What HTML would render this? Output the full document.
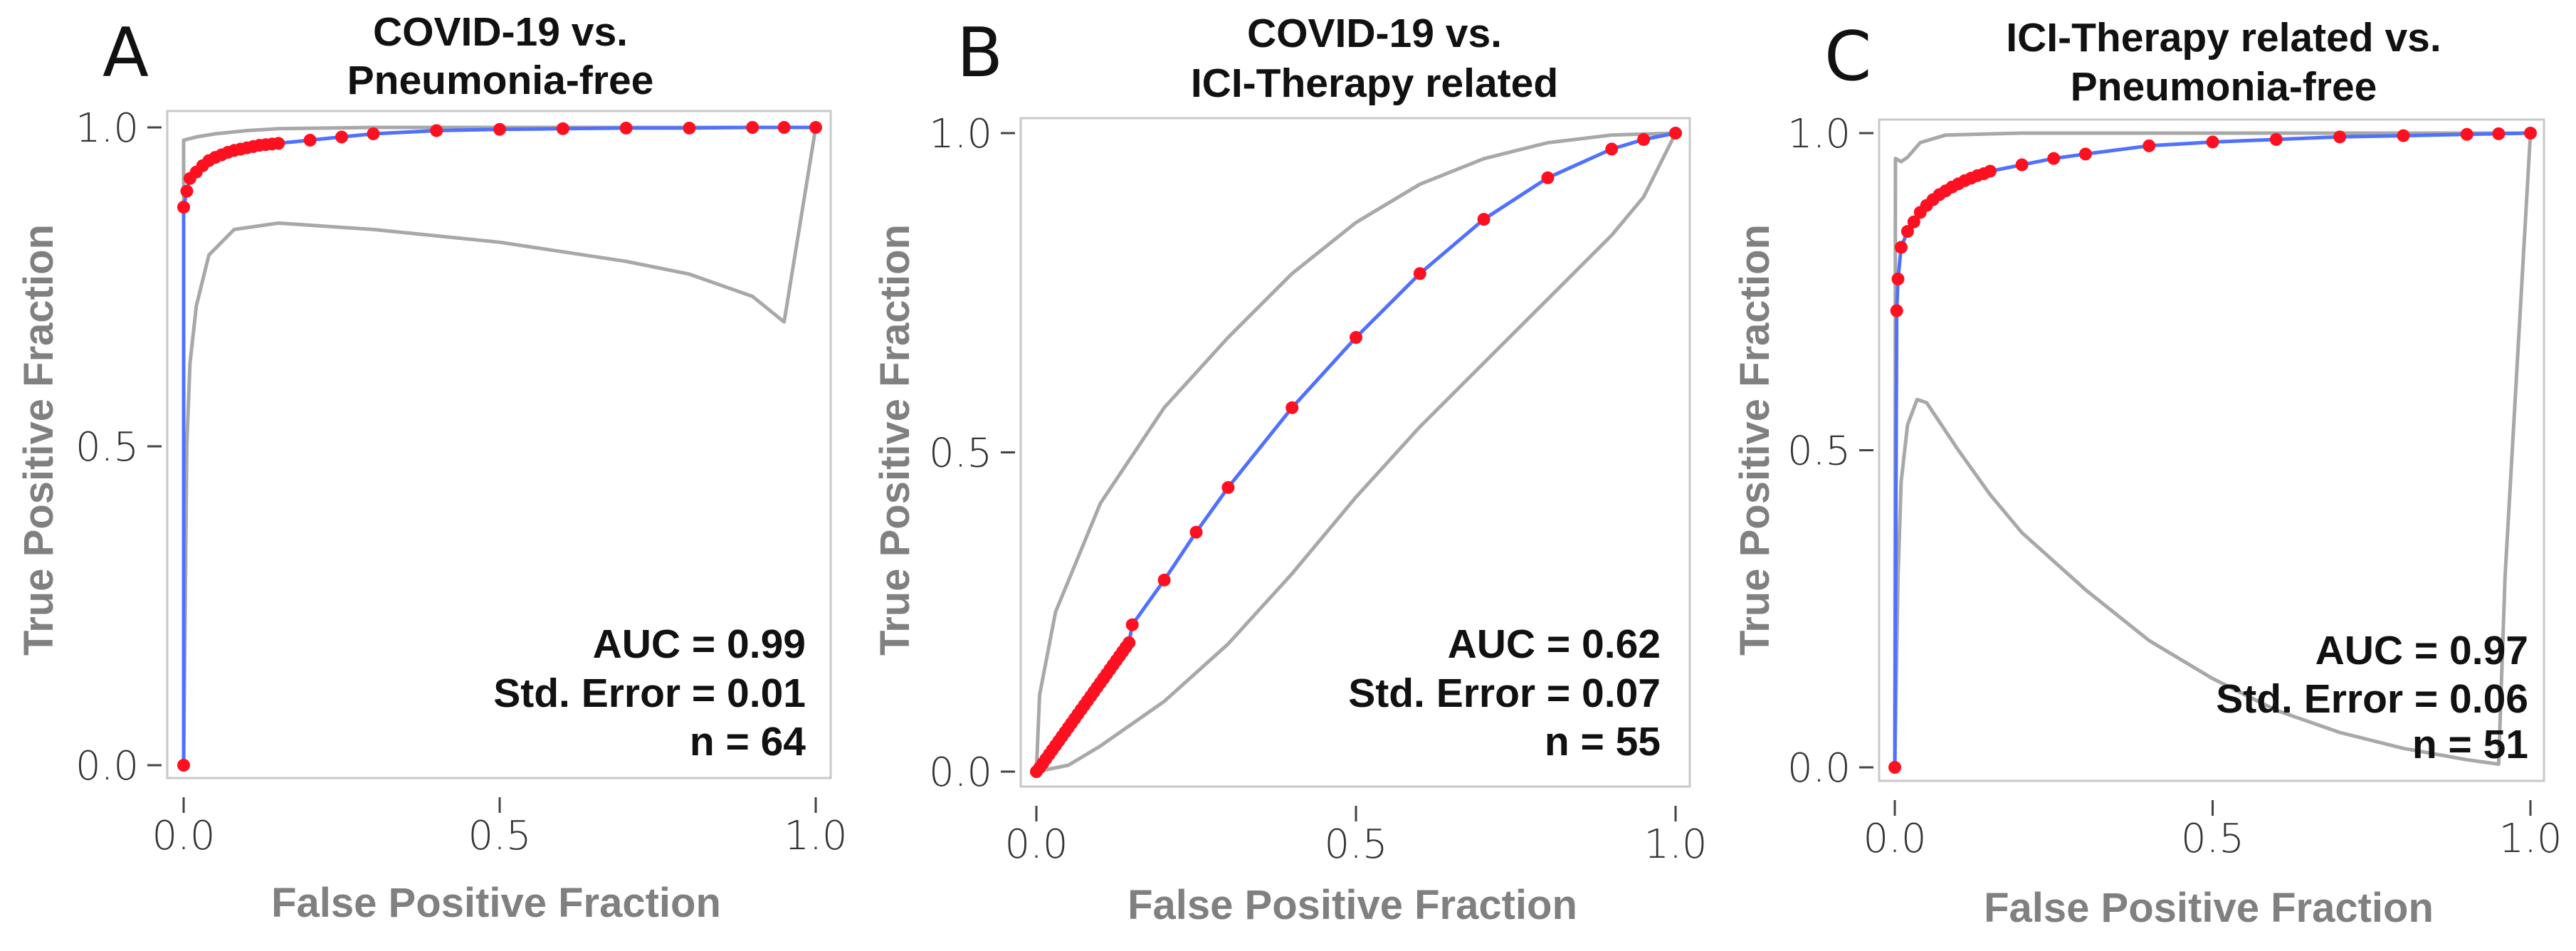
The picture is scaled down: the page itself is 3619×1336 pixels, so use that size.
<!DOCTYPE html>
<html><head><meta charset="utf-8"><style>
html,body{margin:0;padding:0;background:#fff;}
svg{display:block;}
</style></head><body>
<svg id="fig" width="3619" height="1336" viewBox="0 0 3619 1336" xmlns="http://www.w3.org/2000/svg" font-family="Liberation Sans, sans-serif">
</svg>
<script>
// Panel A data
const aDotX=[0,0,0.005,0.01,0.02,0.03,0.04,0.05,0.06,0.07,0.08,0.09,0.10,0.11,0.12,0.13,0.14,0.15,0.2,0.25,0.3,0.4,0.5,0.6,0.7,0.8,0.9,0.95,1];
const aDotY=[0,0.875,0.9,0.92,0.93,0.94,0.948,0.953,0.957,0.961,0.964,0.966,0.968,0.970,0.972,0.973,0.974,0.975,0.98,0.985,0.99,0.995,0.997,0.998,0.999,0.999,1,1,1];
const aUpX=[0,0,0.02,0.05,0.1,0.15,0.3,1];
const aUpY=[0,0.98,0.985,0.99,0.995,0.998,1,1];
const aLoX=[0,0.005,0.01,0.02,0.04,0.08,0.15,0.3,0.5,0.7,0.8,0.9,0.95,1];
const aLoY=[0,0.5,0.63,0.72,0.8,0.84,0.85,0.84,0.82,0.79,0.77,0.735,0.695,1];
// Panel B data
const bDotX=[0,0.005,0.01,0.015,0.02,0.025,0.03,0.035,0.04,0.045,0.05,0.055,0.06,0.065,0.07,0.075,0.08,0.085,0.09,0.095,0.1,0.105,0.11,0.115,0.12,0.125,0.13,0.135,0.14,0.145,0.15,0.2,0.25,0.3,0.4,0.5,0.6,0.7,0.8,0.9,0.95,1];
const bDotY=[0,0.006,0.013,0.02,0.027,0.034,0.041,0.048,0.055,0.062,0.069,0.076,0.083,0.09,0.097,0.104,0.111,0.118,0.125,0.132,0.139,0.146,0.153,0.16,0.167,0.174,0.181,0.188,0.195,0.202,0.23,0.3,0.375,0.445,0.57,0.68,0.78,0.865,0.93,0.975,0.99,1];
const bUpX=[0,0.005,0.03,0.1,0.2,0.3,0.4,0.5,0.6,0.7,0.8,0.9,1];
const bUpY=[0,0.12,0.25,0.42,0.57,0.68,0.78,0.86,0.92,0.96,0.985,0.997,1];
const bLoX=[0,0.05,0.1,0.2,0.3,0.4,0.5,0.6,0.7,0.8,0.9,0.95,1];
const bLoY=[0,0.01,0.04,0.11,0.2,0.31,0.43,0.54,0.64,0.74,0.84,0.9,1];
// Panel C data
const cDotX=[0,0.003,0.005,0.01,0.02,0.03,0.04,0.05,0.06,0.07,0.08,0.09,0.10,0.11,0.12,0.13,0.14,0.15,0.2,0.25,0.3,0.4,0.5,0.6,0.7,0.8,0.9,0.95,1];
const cDotY=[0,0.72,0.77,0.82,0.845,0.86,0.875,0.886,0.895,0.903,0.909,0.915,0.92,0.925,0.929,0.933,0.936,0.94,0.95,0.96,0.967,0.98,0.986,0.99,0.994,0.996,0.998,0.999,1];
const cUpX=[0,0.001,0.01,0.02,0.04,0.08,0.2,1];
const cUpY=[0,0.96,0.955,0.962,0.985,0.997,1,1];
const cLoX=[0,0.005,0.01,0.02,0.035,0.05,0.1,0.15,0.2,0.3,0.4,0.5,0.6,0.7,0.8,0.9,0.95,0.96,0.98,1];
const cLoY=[0,0.3,0.45,0.54,0.58,0.575,0.5,0.43,0.37,0.28,0.2,0.14,0.09,0.055,0.03,0.012,0.005,0.3,0.65,1];

const tickVals=[0,0.5,1];
const tickLabels=["0.0","0.5","1.0"];

const panels=[
 {id:"a",letter:"A",t1:"COVID-19 vs.",t2:"Pneumonia-free",stats:["AUC = 0.99","Std. Error = 0.01","n = 64"],
  dx:aDotX,dy:aDotY,ux:aUpX,uy:aUpY,lx:aLoX,ly:aLoY,
  fr:[235,156,1167,1093],x0:258,x1:1146,y0:1075,y1:179,letterX:144,letterY:107,tcx:703,tb:[64,132],
  sr:1132,sb:[924,993,1061],ytitleX:53,xtb:1288},
 {id:"b",letter:"B",t1:"COVID-19 vs.",t2:"ICI-Therapy related",stats:["AUC = 0.62","Std. Error = 0.07","n = 55"],
  dx:bDotX,dy:bDotY,ux:bUpX,uy:bUpY,lx:bLoX,ly:bLoY,
  fr:[1434,166,2374,1105],x0:1456,x1:2354,y0:1084,y1:187,letterX:1344,letterY:107,tcx:1931,tb:[66,136],
  sr:2333,sb:[924,993,1061],ytitleX:1256,xtb:1291},
 {id:"c",letter:"C",t1:"ICI-Therapy related vs.",t2:"Pneumonia-free",stats:["AUC = 0.97","Std. Error = 0.06","n = 51"],
  dx:cDotX,dy:cDotY,ux:cUpX,uy:cUpY,lx:cLoX,ly:cLoY,
  fr:[2640,168,3574,1097],x0:2662,x1:3555,y0:1078,y1:187,letterX:2563,letterY:112,tcx:3124,tb:[72,141],
  sr:3552,sb:[933,1001,1065],ytitleX:2464,xtb:1295}
];
const NS="http://www.w3.org/2000/svg";
const svg=document.getElementById("fig");
function mk(tag,attrs,parent,text){const e=document.createElementNS(NS,tag);for(const k in attrs)e.setAttribute(k,attrs[k]);if(text!==undefined)e.textContent=text;parent.appendChild(e);return e;}

panels.forEach(p=>{
  const sx=v=>p.x0+v*(p.x1-p.x0);
  const sy=v=>p.y0+v*(p.y1-p.y0);
  const g=mk("g",{},svg);
  
  
  const fr=mk("rect",{x:p.fr[0],y:p.fr[1],width:p.fr[2]-p.fr[0],height:p.fr[3]-p.fr[1],fill:"none",stroke:"#c8c8c8","stroke-width":3},g);
  
  
  const cx=(p.fr[0]+p.fr[2])/2;
  const lt=mk("text",{x:p.letterX,y:p.letterY,"font-size":95,fill:"#111","font-family":"DejaVu Sans, sans-serif"},g,p.letter);
  
  
  const t1=mk("text",{x:p.tcx,y:p.tb[0],"font-size":57,"font-weight":"bold","text-anchor":"middle",fill:"#111"},g,p.t1);
  
  
  const t2=mk("text",{x:p.tcx,y:p.tb[1],"font-size":57,"font-weight":"bold","text-anchor":"middle",fill:"#111"},g,p.t2);
  
  
  tickVals.forEach((v,i)=>{
    const yt=mk("line",{x1:p.fr[0]-28,x2:p.fr[0]-8,y1:sy(v),y2:sy(v),stroke:"#444","stroke-width":3},g);
    
    
    const yl=mk("text",{x:p.fr[0]-40,y:sy(v)+20,"font-size":56,"text-anchor":"end",fill:"#333","font-family":"DejaVu Sans, sans-serif","font-weight":"300"},g,tickLabels[i]);
    
    
    const xt=mk("line",{x1:sx(v),x2:sx(v),y1:p.fr[3]+27,y2:p.fr[3]+49,stroke:"#444","stroke-width":3},g);
    
    
    const xl=mk("text",{x:sx(v),y:p.fr[3]+100,"font-size":56,"text-anchor":"middle",fill:"#333","font-family":"DejaVu Sans, sans-serif","font-weight":"300"},g,tickLabels[i]);
    
    
  });
  const xtitle=mk("text",{x:cx-4,y:p.xtb,"font-size":58,"font-weight":"bold","text-anchor":"middle",fill:"#808080"},g,"False Positive Fraction");
  
  
  const yty=618;
  const ytitle=mk("text",{x:p.ytitleX+21,y:yty,"font-size":58,"font-weight":"bold","text-anchor":"middle",fill:"#808080",transform:"rotate(-90 "+(p.ytitleX+21)+" "+yty+")"},g,"True Positive Fraction");
  
  
  const pts=(xs,ys)=>xs.map((x,i)=>sx(x).toFixed(1)+","+sy(ys[i]).toFixed(1)).join(" ");
  const up=mk("polyline",{points:pts(p.ux,p.uy),fill:"none",stroke:"#a8a8a8","stroke-width":5,"stroke-linejoin":"round"},g);
  
  
  const lo=mk("polyline",{points:pts(p.lx,p.ly),fill:"none",stroke:"#a8a8a8","stroke-width":5,"stroke-linejoin":"round"},g);
  
  
  const roc=mk("polyline",{points:pts(p.dx,p.dy),fill:"none",stroke:"#5070ff","stroke-width":5,"stroke-linejoin":"round"},g);
  
  
  p.dx.forEach((x,i)=>{
    const c=mk("circle",{cx:sx(x),cy:sy(p.dy[i]),r:9,fill:"#ff1020"},g);
    
    
  });
  p.stats.forEach((s,i)=>{
    const st=mk("text",{x:p.sr,y:p.sb[i],"font-size":57,"font-weight":"bold","text-anchor":"end",fill:"#111"},g,s);
    
    
  });
});
</script>
</body></html>
